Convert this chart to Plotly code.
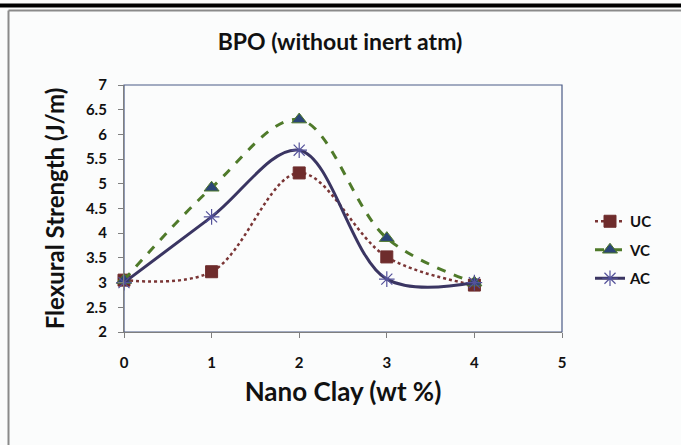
import plotly.graph_objects as go

x_vals = [0, 1, 2, 3, 4]
uc = [3.05, 3.22, 5.22, 3.52, 2.95]
vc = [3.05, 4.92, 6.30, 3.90, 3.00]
ac = [3.00, 4.33, 5.68, 3.07, 3.00]
series_names = ["UC", "VC", "AC"]

FONT = "Lato"
L, R, T, B = 124, 119, 85, 113
W, H = 681, 445
pw, ph = W - L - R, H - T - B

def px(xp):
    return (xp - L) / pw

def py(yp):
    return (H - B - yp) / ph

fig = go.Figure()
fig.add_trace(go.Scatter(
    x=x_vals, y=uc, name=series_names[0], mode="lines+markers", legendgroup="a",
    line=dict(color="#7a3535", width=2.5, dash="dot", shape="spline"),
    marker=dict(symbol="square", size=12, color="#6e2c2c", line=dict(color="#6e2c2c", width=1)),
    cliponaxis=False))
fig.add_trace(go.Scatter(
    x=x_vals, y=vc, name=series_names[1], mode="lines+markers", legendgroup="b",
    line=dict(color="#4f7a2a", width=3, dash="dash", shape="spline"),
    marker=dict(symbol="triangle-up", size=13, color="#2b4577", line=dict(color="#4f7a2a", width=1)),
    cliponaxis=False))
fig.add_trace(go.Scatter(
    x=x_vals, y=ac, name=series_names[2], mode="lines+markers", legendgroup="c",
    line=dict(color="#3a3562", width=3, shape="spline"),
    marker=dict(symbol="asterisk-open", size=13, color="#54529a", line=dict(color="#54529a", width=1.2)),
    cliponaxis=False))

shapes = [
    dict(type="rect", xref="paper", yref="paper", x0=0, x1=1, y0=0, y1=1,
         line=dict(color="#4a5a85", width=1.2), layer="below"),
    dict(type="line", xref="paper", yref="paper", x0=px(8.5), x1=px(690), y0=py(10.5), y1=py(10.5),
         line=dict(color="#8a8a8a", width=2)),
    dict(type="line", xref="paper", yref="paper", x0=px(8.5), x1=px(8.5), y0=py(10.5), y1=py(450),
         line=dict(color="#8a8a8a", width=2)),
    dict(type="line", xref="paper", yref="paper", x0=px(-5), x1=px(690), y0=py(5.5), y1=py(5.5),
         line=dict(color="#000000", width=4)),
]

fig.update_layout(
    width=W, height=H,
    margin=dict(l=L, r=R, t=T, b=B, autoexpand=False),
    paper_bgcolor="#fbfcfc", plot_bgcolor="#fbfcfc",
    font=dict(family=FONT, color="#1a1a1a"),
    title=dict(text="<b>BPO (without inert atm)</b>", x=340 / W, xanchor="center",
               y=1 - 42 / H, yanchor="middle", font=dict(size=23, family=FONT, color="#111111")),
    xaxis=dict(range=[0, 5], tickvals=[0, 1, 2, 3, 4, 5], showgrid=False, zeroline=False,
               showline=True, linecolor="#7f7f7f", linewidth=1.2,
               ticks="outside", ticklen=5, tickcolor="#7f7f7f", ticklabelstandoff=12,
               tickfont=dict(size=15, family=FONT, color="#111111", weight="bold"),
               title=dict(text="<b>Nano Clay (wt %)</b>", font=dict(size=26, family=FONT, color="#111111"), standoff=12)),
    yaxis=dict(range=[2, 7], tickvals=[2, 2.5, 3, 3.5, 4, 4.5, 5, 5.5, 6, 6.5, 7], showgrid=False, zeroline=False,
               showline=True, linecolor="#7f7f7f", linewidth=1.2,
               ticks="outside", ticklen=5, tickcolor="#7f7f7f", ticklabelstandoff=8,
               tickfont=dict(size=15, family=FONT, color="#111111", weight="bold"),
               title=dict(text="<b>Flexural Strength (J/m)</b>", font=dict(size=24, family=FONT, color="#111111"), standoff=14)),
    legend=dict(x=px(590), y=py(250), xanchor="left", yanchor="middle",
                bgcolor="rgba(0,0,0,0)", font=dict(size=15, family=FONT, color="#111111", weight="bold"),
                traceorder="grouped", tracegroupgap=6),
    shapes=shapes,
    showlegend=True,
)

fig.write_html("out.html", config={"displayModeBar": False},
               post_script="document.body.style.margin='0';document.body.style.padding='0';")
